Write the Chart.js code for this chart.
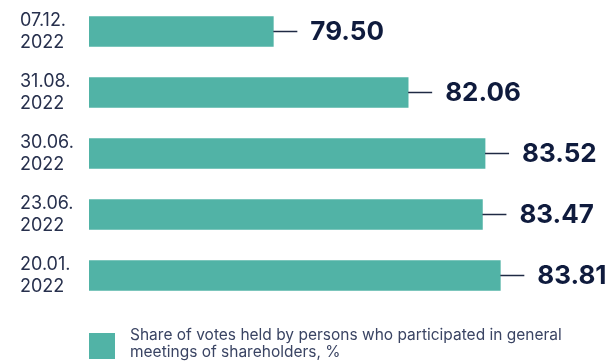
<!DOCTYPE html>
<html>
<head>
<meta charset="utf-8">
<script src="https://cdn.jsdelivr.net/npm/chart.js@4.4.1/dist/chart.umd.min.js"></script>
<style>
  html, body { margin: 0; padding: 0; background: #fff; }
  .wrap { position: relative; width: 608px; height: 362px; }
</style>
</head>
<body>
<div class="wrap"><canvas id="votesChart"></canvas></div>
<script>
const meetingDates = [['07.12.', '2022'], ['31.08.', '2022'], ['30.06.', '2022'], ['23.06.', '2022'], ['20.01.', '2022']];
const voteShares = [79.50, 82.06, 83.52, 83.47, 83.81];
const legendLines = ['Share of votes held by persons who participated in general', 'meetings of shareholders, %'];

const BAR_COLOR = '#51b3a6';
const NAVY = '#0f1b3d';
const LABEL_COLOR = '#27304d';

// leader line + bold value at the end of each bar
const valueLabels = {
  id: 'valueLabels',
  afterDatasetsDraw(chart) {
    const ctx = chart.ctx;
    const meta = chart.getDatasetMeta(0);
    ctx.save();
    meta.data.forEach((bar, i) => {
      ctx.strokeStyle = '#1f2a44';
      ctx.lineWidth = 1.5;
      ctx.beginPath();
      ctx.moveTo(bar.x, bar.y);
      ctx.lineTo(bar.x + 24, bar.y);
      ctx.stroke();
      ctx.fillStyle = NAVY;
      ctx.font = '700 26px Inter';
      ctx.textAlign = 'left';
      ctx.textBaseline = 'middle';
      ctx.fillText(voteShares[i].toFixed(2), bar.x + 37, bar.y + 1);
    });
    ctx.restore();
  }
};

// legend drawn by hand so it can sit under the bars with wrapped text
const bottomLegend = {
  id: 'bottomLegend',
  afterDraw(chart) {
    const ctx = chart.ctx;
    const x = chart.chartArea.left;
    ctx.save();
    ctx.fillStyle = BAR_COLOR;
    ctx.fillRect(x, 333, 26, 26);
    ctx.fillStyle = '#3a4463';
    ctx.font = '15.5px Inter';
    ctx.textAlign = 'left';
    ctx.textBaseline = 'alphabetic';
    legendLines.forEach((line, i) => ctx.fillText(line, x + 41, 340 + i * 17));
    ctx.restore();
  }
};

new Chart(document.getElementById('votesChart'), {
  type: 'bar',
  data: {
    labels: meetingDates,
    datasets: [{
      data: voteShares,
      backgroundColor: BAR_COLOR,
      borderWidth: 0,
      barThickness: 30
    }]
  },
  options: {
    indexAxis: 'y',
    responsive: true,
    maintainAspectRatio: false,
    animation: false,
    layout: { padding: { left: 20, right: 45, top: 1, bottom: 56 } },
    plugins: {
      legend: { display: false },
      tooltip: { enabled: false }
    },
    scales: {
      x: {
        display: false,
        min: 76,
        max: 85
      },
      y: {
        grid: { display: false },
        border: { display: false },
        afterFit(scale) {
          scale.width = 69;
          scale.paddingTop = 0;
          scale.paddingBottom = 0;
        },
        ticks: {
          crossAlign: 'far',
          color: LABEL_COLOR,
          font: { family: 'Inter', size: 18, lineHeight: 1.22 }
        }
      }
    }
  },
  plugins: [valueLabels, bottomLegend]
});
</script>
</body>
</html>
